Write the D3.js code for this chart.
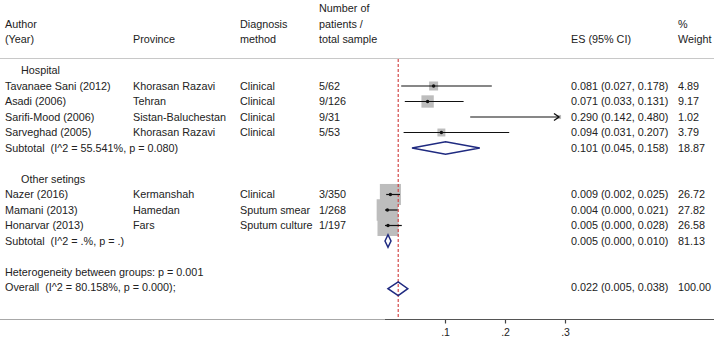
<!DOCTYPE html>
<html><head><meta charset="utf-8">
<script src="https://cdn.jsdelivr.net/npm/d3@7"></script>
<style>
html,body{margin:0;padding:0;background:#fff;}
svg{display:block;}
text{font-family:"Liberation Sans",Arial,sans-serif;font-size:10.8px;fill:#222;white-space:pre;}
</style></head><body>
<svg id="c" width="714" height="345"></svg>
<script>
// ---- data ----
const headerAuthor = ["Author", "(Year)"];
const headerProvince = ["Province"];
const headerMethod = ["Diagnosis", "method"];
const headerCount = ["Number of", "patients /", "total sample"];
const headerES = ["ES (95% CI)"];
const headerWeight = ["%", "Weight"];

const groupNames = ["Hospital", "Other setings"];
const studyGroup = [0, 0, 0, 0, 1, 1, 1];
const authors = ["Tavanaee Sani (2012)", "Asadi (2006)", "Sarifi-Mood (2006)", "Sarveghad (2005)", "Nazer (2016)", "Mamani (2013)", "Honarvar (2013)"];
const provinces = ["Khorasan Razavi", "Tehran", "Sistan-Baluchestan", "Khorasan Razavi", "Kermanshah", "Hamedan", "Fars"];
const methods = ["Clinical", "Clinical", "Clinical", "Clinical", "Clinical", "Sputum smear", "Sputum culture"];
const counts = ["5/62", "9/126", "9/31", "5/53", "3/350", "1/268", "1/197"];
const es = [0.081, 0.071, 0.290, 0.094, 0.009, 0.004, 0.005];
const lo = [0.027, 0.033, 0.142, 0.031, 0.002, 0.000, 0.000];
const hi = [0.178, 0.131, 0.480, 0.207, 0.025, 0.021, 0.028];
const weights = [4.89, 9.17, 1.02, 3.79, 26.72, 27.82, 26.58];

const subLabels = ["Subtotal  (I^2 = 55.541%, p = 0.080)", "Subtotal  (I^2 = .%, p = .)"];
const subES = [0.101, 0.005];
const subLo = [0.045, 0.000];
const subHi = [0.158, 0.010];
const subWeights = [18.87, 81.13];

const hetLabel = "Heterogeneity between groups: p = 0.001";
const overallLabel = "Overall  (I^2 = 80.158%, p = 0.000);";
const overallES = 0.022, overallLo = 0.005, overallHi = 0.038, overallWeight = 100.00;

const xTicks = [0.1, 0.2, 0.3];
const xTickLabels = [".1", ".2", ".3"];
const xClip = 0.29;

// ---- layout rows ----
const rows = [];
let r = 0;
groupNames.forEach((g, gi) => {
  rows.push({type: "group", label: g, idx: r++});
  studyGroup.forEach((sg, i) => { if (sg === gi) rows.push({type: "study", i, idx: r++}); });
  rows.push({type: "sub", gi, idx: r++});
  r++; // blank
});
rows.push({type: "het", idx: r++});
rows.push({type: "overall", idx: r++});

const svg = d3.select("#c");
const x = d3.scaleLinear().domain([0, 0.3]).range([385, 565]);
const y = d3.scaleLinear().domain([0, 14]).range([70.5, 287.5]);
const box = d3.scaleSqrt().domain([0, 27.82]).range([0, 21.5]);
const fmt = d3.format(".3f");
const fmtW = d3.format(".2f");
const ciText = (e, l, h) => `${fmt(e)} (${fmt(l)}, ${fmt(h)})`;

const col = {author: 5, prov: 133, meth: 240, cnt: 319, es: 571, w: 678};

// headers
const hdr = (arr, cx, endIdx) => arr.forEach((t, k) => {
  svg.append("text").attr("x", cx).attr("y", y(endIdx - (arr.length - 1 - k))).attr("dy", "0.35em").text(t);
});
hdr(headerAuthor, col.author, -2);
hdr(headerProvince, col.prov, -2);
hdr(headerMethod, col.meth, -2);
hdr(headerCount, col.cnt, -2);
hdr(headerES, col.es, -2);
hdr(headerWeight, col.w, -2);

// separators
svg.append("line").attr("x1", 0).attr("x2", 714).attr("y1", 58.5).attr("y2", 58.5).attr("stroke", "#c8c8c8").attr("stroke-width", 1.2);
const axisY = 319.5;
svg.append("line").attr("x1", 0).attr("x2", 714).attr("y1", axisY).attr("y2", axisY).attr("stroke", "#a8a8a8").attr("stroke-width", 1.2);

// boxes first
const studyRows = rows.filter(d => d.type === "study");
svg.append("g").selectAll("rect").data(studyRows).join("rect")
  .attr("x", d => x(es[d.i]) - box(weights[d.i]) / 2)
  .attr("y", d => y(d.idx) - box(weights[d.i]) / 2)
  .attr("width", d => box(weights[d.i]))
  .attr("height", d => box(weights[d.i]))
  .attr("fill", "#bdbdbd");

// overall red dashed line
svg.append("line").attr("x1", x(overallES)).attr("x2", x(overallES)).attr("y1", 59).attr("y2", axisY)
  .attr("stroke", "#d03a3a").attr("stroke-width", 1.1).attr("stroke-dasharray", "3,2");

// CI lines
studyRows.forEach(d => {
  const i = d.i, yy = y(d.idx);
  const xr = Math.min(hi[i], xClip);
  svg.append("line").attr("x1", x(lo[i])).attr("x2", x(xr)).attr("y1", yy).attr("y2", yy)
    .attr("stroke", "#111").attr("stroke-width", 1.2);
  if (hi[i] > xClip) {
    const ax = x(xClip);
    svg.append("path").attr("d", `M${ax - 5},${yy - 3.5}L${ax},${yy}L${ax - 5},${yy + 3.5}`)
      .attr("fill", "none").attr("stroke", "#111").attr("stroke-width", 1.4);
  } else {
    svg.append("circle").attr("cx", x(es[i])).attr("cy", yy).attr("r", 1.7).attr("fill", "#111");
  }
});

// diamonds
const diamond = (e, l, h, yy, hh) => svg.append("path")
  .attr("d", `M${x(l)},${yy}L${x(e)},${yy - hh}L${x(h)},${yy}L${x(e)},${yy + hh}Z`)
  .attr("fill", "none").attr("stroke", "#1f2a80").attr("stroke-width", 1.5);

// texts
rows.forEach(d => {
  const yy = y(d.idx);
  const t = (xx, s) => svg.append("text").attr("x", xx).attr("y", yy).attr("dy", "0.35em").text(s);
  if (d.type === "group") t(21, d.label);
  else if (d.type === "study") {
    const i = d.i;
    t(col.author, authors[i]); t(col.prov, provinces[i]); t(col.meth, methods[i]); t(col.cnt, counts[i]);
    t(col.es, ciText(es[i], lo[i], hi[i])); t(col.w, fmtW(weights[i]));
  } else if (d.type === "sub") {
    const g = d.gi;
    t(col.author, subLabels[g]);
    t(col.es, ciText(subES[g], subLo[g], subHi[g])); t(col.w, fmtW(subWeights[g]));
    diamond(subES[g], subLo[g], subHi[g], yy, 6.3);
  } else if (d.type === "het") t(col.author, hetLabel);
  else if (d.type === "overall") {
    t(col.author, overallLabel);
    t(col.es, ciText(overallES, overallLo, overallHi)); t(col.w, fmtW(overallWeight));
    diamond(overallES, overallLo, overallHi, yy + 1.2, 6.8);
  }
});

// x axis
const ax = svg.append("g").attr("transform", `translate(0,${axisY})`)
  .call(d3.axisBottom(x).tickValues(xTicks).tickFormat((v, k) => xTickLabels[k]).tickSize(4).tickPadding(5));
ax.select(".domain").remove();
ax.selectAll(".tick line").attr("stroke", "#444").attr("stroke-width", 1.2);
ax.selectAll(".tick text").style("font-family", "Liberation Sans, Arial, sans-serif").style("font-size", "10.5px").attr("fill", "#222");
svg.append("line").attr("x1", x(0)).attr("x2", 714).attr("y1", axisY).attr("y2", axisY).attr("stroke", "#555").attr("stroke-width", 1.2);
</script>
</body></html>
